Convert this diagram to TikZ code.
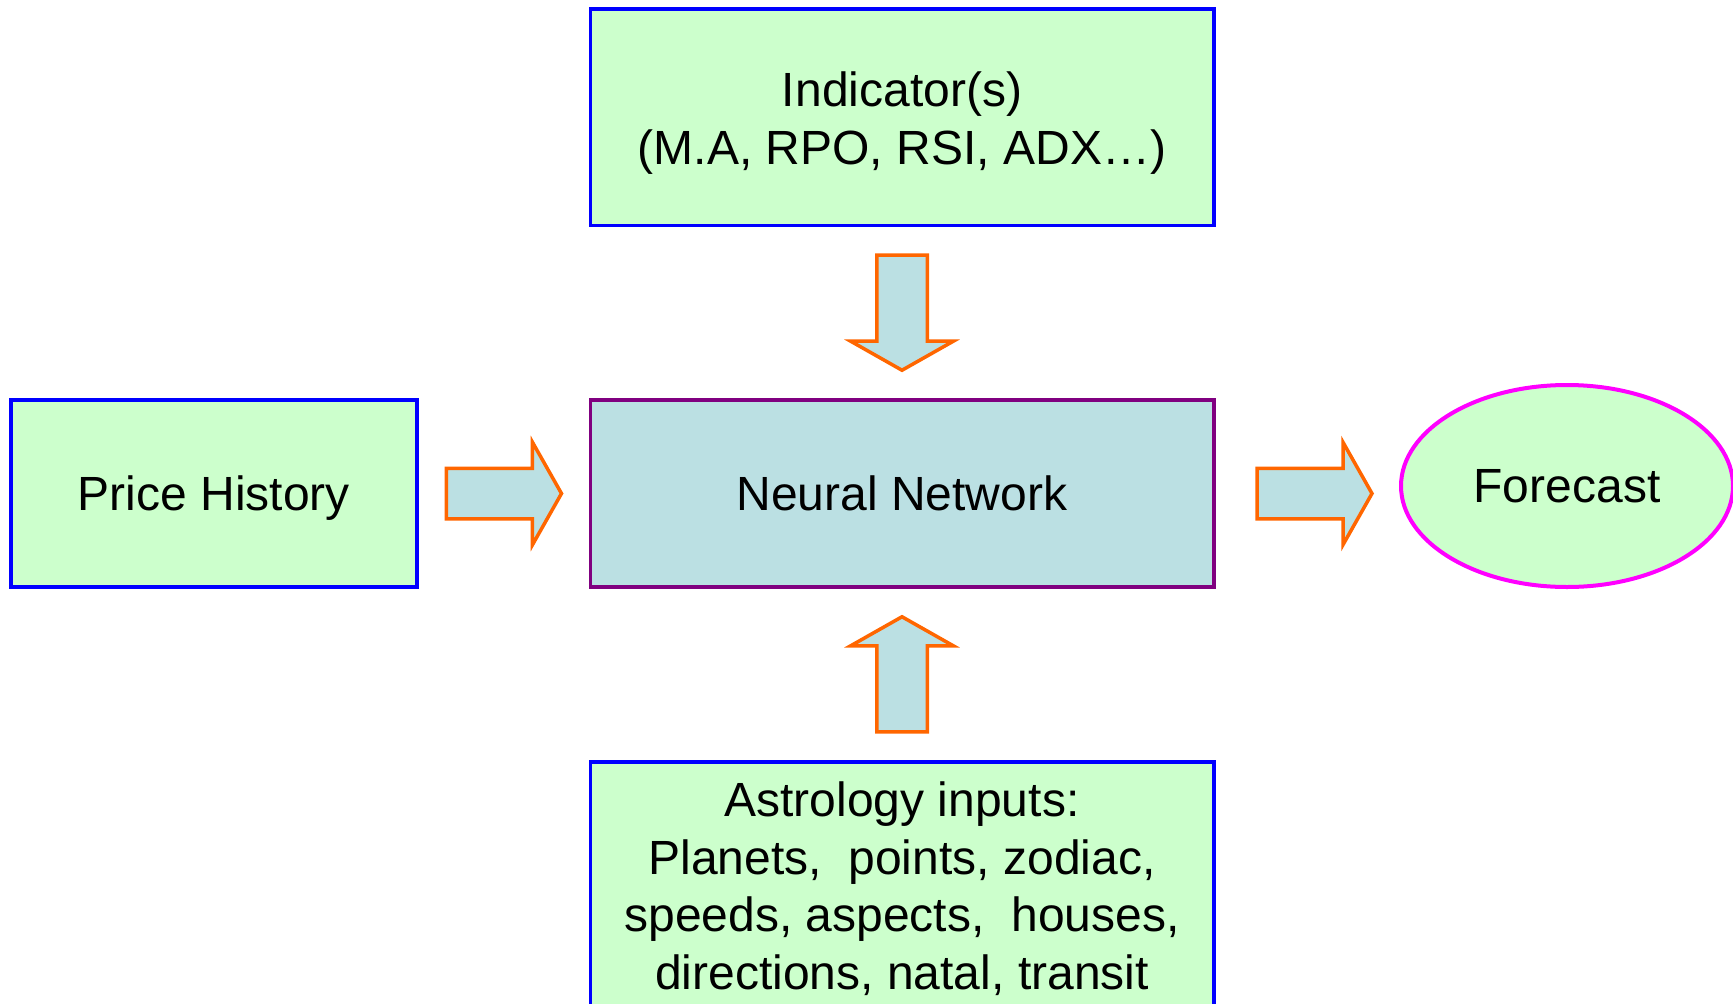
\documentclass[tikz,border=0pt]{standalone}
\usepackage{fontspec}
\setmainfont{Liberation Sans}
\usetikzlibrary{shapes.geometric,shapes.arrows,calc}
\definecolor{mint}{HTML}{CCFFCC}
\definecolor{paleteal}{HTML}{BBE0E3}
\definecolor{boxblue}{HTML}{0000FF}
\definecolor{netpurple}{HTML}{800080}
\definecolor{arroworange}{HTML}{FF6600}
\definecolor{ovalmagenta}{HTML}{FF00FF}

\begin{document}
\begin{tikzpicture}[x=1pt,y=-1pt,
  labeltext/.style={font=\fontsize{48}{57.5}\selectfont, align=center},
  oneline/.style={font=\fontsize{48}{57.5}\selectfont, text depth=0pt},
  inputbox/.style={rectangle, draw=boxblue, fill=mint, line width=3.5pt,
    inner sep=0pt},
  netbox/.style={rectangle, draw=netpurple, fill=paleteal, line width=3.5pt,
    inner sep=0pt},
  outoval/.style={ellipse, draw=ovalmagenta, fill=mint, line width=4pt,
    inner sep=0pt},
  flow/.style={single arrow, draw=arroworange, fill=paleteal, line width=3.5pt,
    minimum height=115pt, minimum width=99pt, single arrow head extend=26pt,
    single arrow tip angle=121, anchor=tip},
  hflow/.style={flow, inner xsep=0pt, inner ysep=23.5pt},
  vflow/.style={flow, inner xsep=23.5pt, inner ysep=0pt}
]
\useasboundingbox (0,0) rectangle (1733,1004);

% input sources, the network and its output
\node[inputbox, minimum width=623.5pt, minimum height=216.5pt] (ind) at (902,117) {};
\node[labeltext, inner sep=0pt, anchor=north] (indtext) at (902,72)
  {Indicator(s)\\(M.A, RPO, RSI, ADX…)};
\node[netbox, oneline, minimum width=623.5pt, minimum height=187pt] (nn) at (902,493.5)
  {Neural Network};
\node[inputbox, oneline, minimum width=406pt, minimum height=187pt] (price) at (214,493.5)
  {Price History};
\node[outoval, oneline, minimum width=332pt, minimum height=202pt] (fc) at (1567,486)
  {Forecast};
\node[inputbox, minimum width=623.5pt, minimum height=290pt, anchor=north] (astro)
  at (902,760) {};
\node[labeltext, inner sep=0pt, anchor=north] (astrotext) at (902,781.6)
  {Astrology inputs:\\Planets,\ \ points, zodiac,\\speeds, aspects,\ \ houses,\\directions, natal, transit};

% block arrows feeding the network and leaving it; each tip stops short of its target
\node[vflow, shape border rotate=270] (indflow) at ($(nn.north)+(0,-26)$) {};
\node[vflow, shape border rotate=90] (astroflow) at ($(nn.south)+(0,26)$) {};
\node[hflow] (priceflow) at ($(nn.west)+(-25,0)$) {};
\node[hflow] (fcflow) at ($(nn.east -| fc.west)+(-25,0)$) {};
\end{tikzpicture}
\end{document}
